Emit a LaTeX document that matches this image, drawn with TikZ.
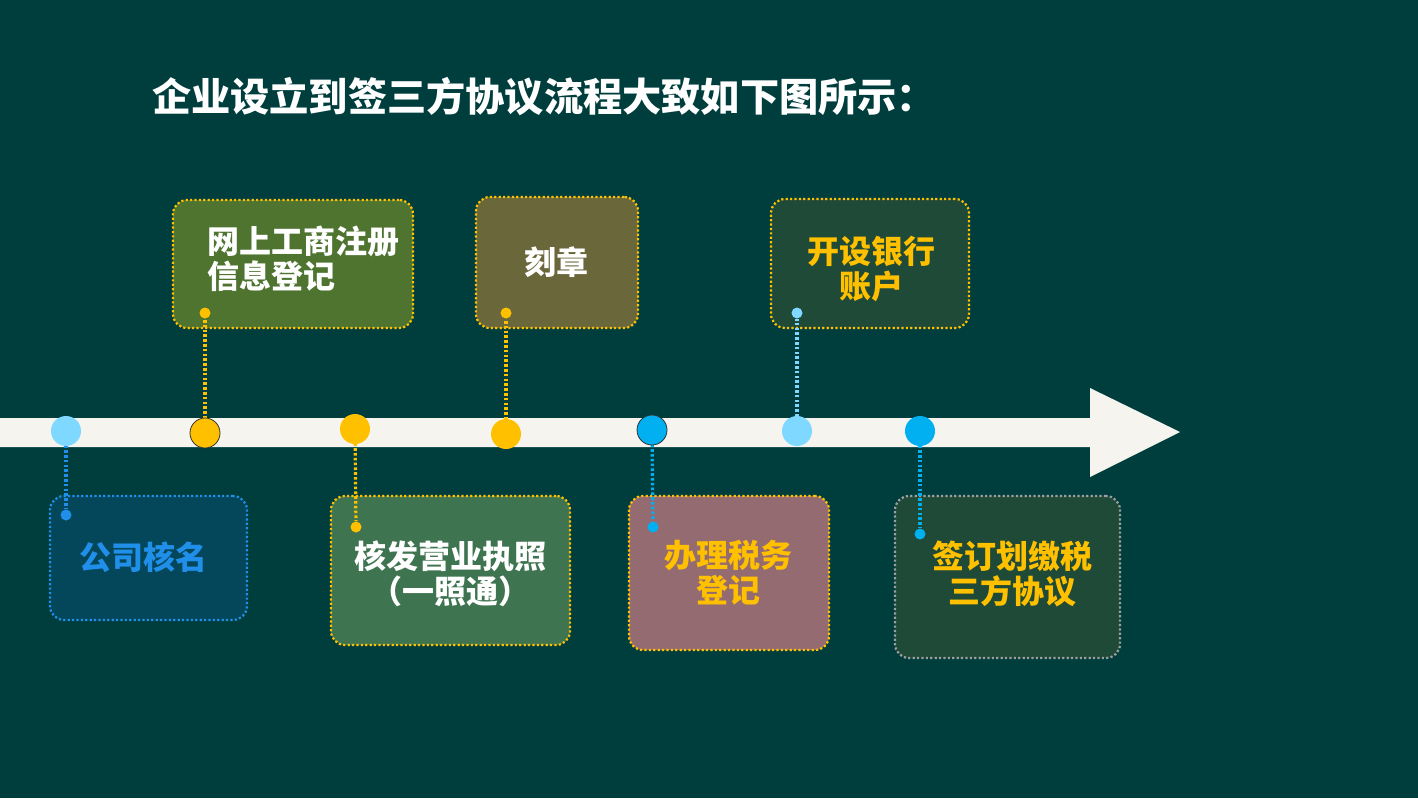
\documentclass[tikz,border=0pt]{standalone}
\usepackage{fontspec}
\setmainfont{Noto Sans CJK SC}
\definecolor{bgteal}{HTML}{003E3E}
\definecolor{band}{HTML}{F5F4EE}
\definecolor{gold}{HTML}{FFC000}
\definecolor{skyblue}{HTML}{7FD8FF}
\definecolor{cyanblue}{HTML}{00B0F0}
\definecolor{dodger}{HTML}{1F8FEA}
\definecolor{fillname}{HTML}{04475A}
\definecolor{fillreg}{HTML}{4E7430}
\definecolor{filllic}{HTML}{3F7450}
\definecolor{fillseal}{HTML}{6A673A}
\definecolor{filltax}{HTML}{946B71}
\definecolor{fillbank}{HTML}{1F4A38}
\definecolor{fillagree}{HTML}{1F4A37}
\definecolor{greyline}{HTML}{9E9E9E}

\begin{document}
\begin{tikzpicture}[x=0.5pt,y=-0.5pt,
 box/.style={rounded corners=7pt,line width=1.1pt,dash pattern=on 1.1pt off 1.1pt,inner sep=0pt},
 txt/.style={align=center,font=\fontsize{16}{17.5}\selectfont\bfseries},
 knob/.style={circle,inner sep=0pt,minimum size=15pt},
 pin/.style={circle,inner sep=0pt,minimum size=5.5pt},
 lead/.style={line width=1.6pt,dash pattern=on 1.3pt off 1.1pt}]
 \fill[bgteal] (0,0) rectangle (1418,798);
 \node[anchor=west,white,font=\fontsize{19.6}{23}\selectfont\bfseries] (title) at (145,97) {企业设立到签三方协议流程大致如下图所示：};
 \fill[band] (0,418)--(1090,418)--(1090,388)--(1180,432)--(1090,477)--(1090,447)--(0,447)--cycle;

 \node[box,draw=dodger,fill=fillname,minimum width=98.5pt,minimum height=62pt] (name) at (148.5,558) {};
 \node[box,draw=gold,fill=fillreg,minimum width=120pt,minimum height=64pt] (reg) at (293,264) {};
 \node[box,draw=gold,fill=filllic,minimum width=119.5pt,minimum height=74.5pt] (lic) at (450.5,570.5) {};
 \node[box,draw=gold,fill=fillseal,minimum width=81pt,minimum height=65.5pt] (seal) at (557,262.5) {};
 \node[box,draw=gold,fill=filltax,minimum width=100pt,minimum height=77pt] (tax) at (729,573) {};
 \node[box,draw=gold,fill=fillbank,minimum width=99pt,minimum height=64.5pt] (bank) at (870,263.5) {};
 \node[box,draw=greyline,fill=fillagree,minimum width=112.5pt,minimum height=81pt] (agree) at (1007.5,577) {};

 \node[txt,dodger] (namet) at (143,557) {公司核名};
 \node[txt,white,align=left,anchor=west] (regt) at (200,259) {网上工商注册\\信息登记};
 \node[txt,white] (lict) at (450,574) {核发营业执照\\（一照通）};
 \node[txt,white] (sealt) at (556,262) {刻章};
 \node[txt,gold] (taxt) at (728,573) {办理税务\\登记};
 \node[txt,gold] (bankt) at (871,269) {开设银行\\账户};
 \node[txt,gold] (agreet) at (1012,574) {签订划缴税\\三方协议};

 \node[pin,fill=dodger] (p1) at (66,515) {};
 \node[pin,fill=gold] (p2) at (205,313) {};
 \node[pin,fill=gold] (p3) at (356,527) {};
 \node[pin,fill=gold] (p4) at (506,313) {};
 \node[pin,fill=cyanblue] (p5) at (653,527) {};
 \node[pin,fill=skyblue] (p6) at (797,313) {};
 \node[pin,fill=cyanblue] (p7) at (920,534) {};

 \coordinate (k1) at (66,431);
 \coordinate (k2) at (205,433);
 \coordinate (k3) at (355,429);
 \coordinate (k4) at (506,434);
 \coordinate (k5) at (652,430);
 \coordinate (k6) at (797,431);
 \coordinate (k7) at (920,431);

 \draw[lead,dodger] (k1)--(p1);
 \draw[lead,gold] (k2)--(p2);
 \draw[lead,gold] (k3)--(p3);
 \draw[lead,gold] (k4)--(p4);
 \draw[lead,cyanblue] (k5)--(p5);
 \draw[lead,skyblue] (k6)--(p6);
 \draw[lead,cyanblue] (k7)--(p7);

 \node[knob,fill=skyblue] (n1) at (k1) {};
 \node[knob,fill=gold,draw=black!80,line width=0.4pt] (n2) at (k2) {};
 \node[knob,fill=gold] (n3) at (k3) {};
 \node[knob,fill=gold] (n4) at (k4) {};
 \node[knob,fill=cyanblue,draw=black!80,line width=0.4pt] (n5) at (k5) {};
 \node[knob,fill=skyblue] (n6) at (k6) {};
 \node[knob,fill=cyanblue] (n7) at (k7) {};
\end{tikzpicture}
\end{document}
